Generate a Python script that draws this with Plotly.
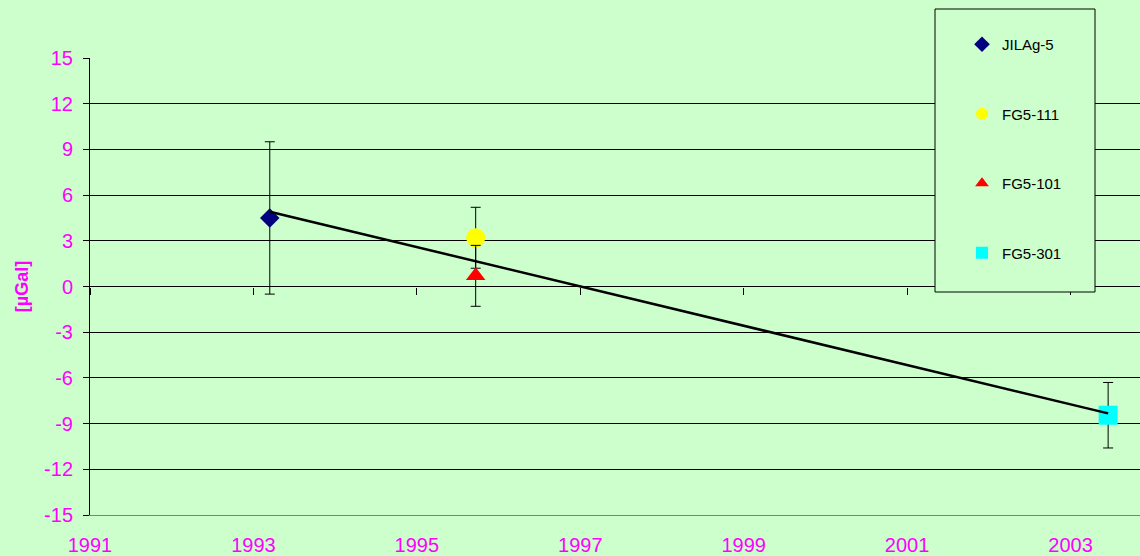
import plotly.graph_objects as go

# ---- data ----
instruments = ["JILAg-5", "FG5-111", "FG5-101", "FG5-301"]
years = [1993.2, 1995.72, 1995.72, 2003.46]
values = [4.5, 3.2, 0.7, -8.45]
errors = [5.0, 2.0, 2.0, 2.15]
colors = ["#000080", "#FFFF00", "#FF0000", "#00FFFF"]
symbols = ["diamond", "circle", "triangle-up", "square"]
sizes = [15, 19, 17, 19]

trend_years = [1993.2, 2003.46]
trend_values = [4.91, -8.33]

x_ticks = [1991, 1993, 1995, 1997, 1999, 2001, 2003]
y_ticks = [-15, -12, -9, -6, -3, 0, 3, 6, 9, 12, 15]
y_labels = ["-15", "-12", "-9", "-6", "-3", "0", "3", "6", "9", "12", "15"]

BG = "#CCFFCC"
MAG = "#FF00FF"
FONT = "Liberation Sans, Arial, sans-serif"

fig = go.Figure()

for name, x, y, e, c, s, sz in zip(instruments, years, values, errors, colors, symbols, sizes):
    fig.add_trace(go.Scatter(
        x=[x], y=[y], mode="markers", name=name, legendgroup=name,
        marker=dict(color=c, symbol=s, size=sz, line=dict(width=0)),
        error_y=dict(type="data", array=[e], visible=True, color="black",
                     thickness=1, width=5),
    ))

fig.add_trace(go.Scatter(
    x=trend_years, y=trend_values, mode="lines", showlegend=False,
    line=dict(color="black", width=2.5), hoverinfo="skip",
))

# dummy trace for zero-crossing axis
fig.add_trace(go.Scatter(x=[None], y=[None], xaxis="x2", showlegend=False, hoverinfo="skip"))

fig.update_layout(
    width=1140, height=556,
    margin=dict(l=90, r=0, t=58, b=41),
    paper_bgcolor=BG, plot_bgcolor=BG,
    font=dict(family=FONT, color=MAG, size=20),
    showlegend=True,
    legend=dict(
        x=(962 - 90) / 1050, xanchor="left",
        y=(515 - 28) / 457, yanchor="top",
        bgcolor="rgba(0,0,0,0)", borderwidth=0,
        font=dict(family=FONT, size=15, color="black"),
        itemsizing="constant", tracegroupgap=47, traceorder="grouped",
    ),
    xaxis=dict(
        range=[1991, 2003.85], tickvals=x_ticks, ticktext=[str(t) for t in x_ticks],
        showgrid=False, zeroline=False, showline=True, linecolor="#808080", linewidth=1,
        ticks="", ticklabelstandoff=12, tickfont=dict(color=MAG, size=20),
    ),
    xaxis2=dict(
        matches="x", overlaying="x", anchor="free", position=0.5,
        range=[1991, 2003.85], tickvals=x_ticks, showticklabels=False,
        showgrid=False, zeroline=False, showline=False,
        ticks="outside", ticklen=7, tickcolor="black", tickwidth=1,
    ),
    yaxis=dict(
        range=[-15, 15], tickvals=y_ticks, ticktext=y_labels,
        showgrid=True, gridcolor="black", gridwidth=1,
        zeroline=False, showline=True, linecolor="black", linewidth=1,
        ticks="outside", ticklen=6, tickcolor="black", ticklabelstandoff=6,
        tickfont=dict(color=MAG, size=20),
        title=dict(text="<b>[µGal]</b>", font=dict(color=MAG, size=18), standoff=10),
    ),
    shapes=[dict(
        type="rect", xref="paper", yref="paper",
        x0=(935 - 90) / 1050, x1=(1095 - 90) / 1050,
        y0=(515 - 292) / 457, y1=(515 - 9) / 457,
        fillcolor=BG, line=dict(color="black", width=1), layer="above",
    )],
)

fig.write_html(
    "out.html",
    config={"displayModeBar": False},
    post_script="document.body.style.margin='0';document.body.style.overflow='hidden';",
)
